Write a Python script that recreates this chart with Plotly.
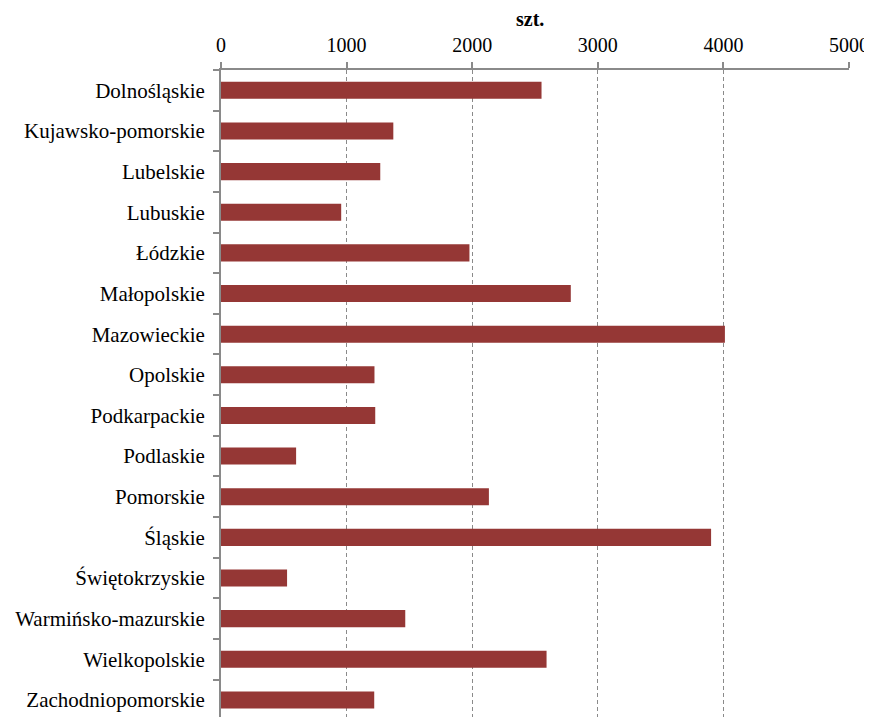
import plotly.graph_objects as go

regions = ["Dolnośląskie", "Kujawsko-pomorskie", "Lubelskie", "Lubuskie", "Łódzkie",
           "Małopolskie", "Mazowieckie", "Opolskie", "Podkarpackie", "Podlaskie",
           "Pomorskie", "Śląskie", "Świętokrzyskie", "Warmińsko-mazurskie",
           "Wielkopolskie", "Zachodniopomorskie"]
values = [2552, 1372, 1268, 957, 1978, 2785, 4012, 1222, 1228, 598,
          2133, 3902, 526, 1467, 2592, 1220]
x_ticks = [0, 1000, 2000, 3000, 4000, 5000]
unit_label = "szt."

fig = go.Figure(go.Bar(
    y=regions, x=values, orientation="h",
    marker=dict(color="#953735", line=dict(width=0)),
    width=0.42,
))

font = "Liberation Serif, Times New Roman, serif"
fig.update_layout(
    width=864, height=709,
    margin=dict(l=213, r=23, t=62, b=0),
    paper_bgcolor="white", plot_bgcolor="white",
    font=dict(family=font, size=20, color="black"),
    showlegend=False,
)
fig.update_xaxes(
    side="top", range=[0, 5000], tickvals=x_ticks,
    showgrid=True, gridcolor="#8a8a8a", griddash="4px,3px", gridwidth=1,
    showline=True, linecolor="#8a8a8a", linewidth=2,
    ticks="outside", ticklen=6, tickcolor="#8a8a8a", tickwidth=1.5,
    zeroline=False, tickfont=dict(family=font, size=20),
    ticklabelstandoff=2,
)
fig.update_yaxes(
    categoryorder="array", categoryarray=regions,
    range=[15.42, -0.5],
    showline=True, linecolor="#8a8a8a", linewidth=2,
    ticks="outside", ticklen=6, tickcolor="#8a8a8a", tickwidth=1.5,
    tickson="boundaries", showgrid=False,
    tickfont=dict(family=font, size=21), ticklabelstandoff=10,
)
fig.add_annotation(
    text="<b>" + unit_label + "</b>", xref="x", yref="paper",
    x=2460, y=1, yanchor="middle", yshift=51, showarrow=False,
    font=dict(family=font, size=20, color="black"),
)

fig.write_html("out.html")
